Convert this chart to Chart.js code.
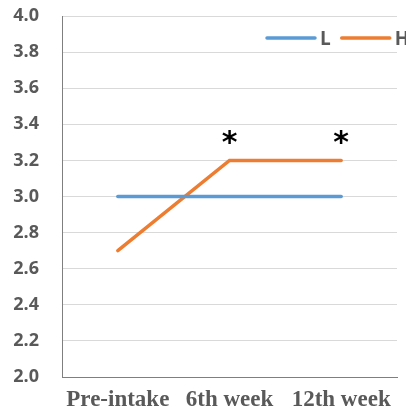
<!DOCTYPE html>
<html>
<head>
<meta charset="utf-8">
<script src="https://cdn.jsdelivr.net/npm/chart.js@4/dist/chart.umd.min.js"></script>
<style>
  html, body { margin: 0; padding: 0; background: #fff; }
  #wrap { width: 406px; height: 419px; position: relative; }
  canvas { display: block; }
</style>
</head>
<body>
<div id="wrap"><canvas id="c" width="406" height="419"></canvas></div>
<script>
// Score over the intake period for the two groups
const categories = ['Pre-intake', '6th week', '12th week'];
const seriesL = [3.0, 3.0, 3.0];
const seriesH = [2.7, 3.2, 3.2];
// Significance marks placed above group H
const marksH = ['', '*', '*'];
const yTicks = [2.0, 2.2, 2.4, 2.6, 2.8, 3.0, 3.2, 3.4, 3.6, 3.8, 4.0];

const blue = '#5B9BD5';
const orange = '#ED7D31';
const textGray = '#595959';

// In-plot legend drawn at the top right of the chart area
const insideLegend = {
  id: 'insideLegend',
  afterDatasetsDraw(chart) {
    const { ctx, chartArea } = chart;
    ctx.save();
    ctx.font = 'bold 19px "Open Sans"';
    ctx.textBaseline = 'middle';
    const y = chartArea.top + 22;
    const lineLen = 48, gap = 5, itemGap = 11;
    let x = chartArea.right - 130;
    chart.data.datasets.forEach(d => {
      ctx.strokeStyle = d.borderColor;
      ctx.lineWidth = 3.5;
      ctx.lineCap = 'round';
      ctx.beginPath();
      ctx.moveTo(x, y);
      ctx.lineTo(x + lineLen, y);
      ctx.stroke();
      ctx.fillStyle = textGray;
      ctx.textAlign = 'left';
      ctx.fillText(d.label, x + lineLen + gap, y + 2);
      x += lineLen + gap + ctx.measureText(d.label).width + itemGap;
    });
    ctx.restore();
  }
};

// Asterisks above the points of the H series
const starMarks = {
  id: 'starMarks',
  afterDatasetsDraw(chart) {
    const { ctx } = chart;
    const meta = chart.getDatasetMeta(1);
    ctx.save();
    ctx.font = 'bold 30px "DejaVu Sans"';
    ctx.fillStyle = '#000';
    ctx.textAlign = 'center';
    ctx.textBaseline = 'middle';
    meta.data.forEach((pt, i) => {
      if (marksH[i]) ctx.fillText(marksH[i], pt.x, pt.y - 16);
    });
    ctx.restore();
  }
};

new Chart(document.getElementById('c'), {
  type: 'line',
  data: {
    labels: categories,
    datasets: [
      { label: 'L', data: seriesL, borderColor: blue, backgroundColor: blue, borderWidth: 3.5, pointRadius: 0, tension: 0, borderCapStyle: 'round' },
      { label: 'H', data: seriesH, borderColor: orange, backgroundColor: orange, borderWidth: 3.5, pointRadius: 0, tension: 0, borderCapStyle: 'round' }
    ]
  },
  options: {
    responsive: false,
    animation: false,
    devicePixelRatio: 1,
    layout: { padding: { top: 16, right: 9, left: 0, bottom: 0 } },
    plugins: {
      legend: { display: false },
      tooltip: { enabled: false }
    },
    scales: {
      x: {
        offset: true,
        grid: { display: false, drawTicks: false },
        border: { color: '#7f7f7f', width: 1 },
        ticks: {
          color: textGray,
          font: { family: '"Liberation Serif"', size: 23, weight: 'bold' },
          padding: 9,
          maxRotation: 0,
          autoSkip: false
        },
        afterFit(s) {
          s.height = 42;
          s.paddingLeft = 0; s.paddingRight = 0; s.paddingTop = 0; s.paddingBottom = 0;
        }
      },
      y: {
        min: 2.0,
        max: 4.0,
        afterBuildTicks(s) { s.ticks = yTicks.map(v => ({ value: v })); },
        grid: { color: '#d9d9d9', lineWidth: 1, drawTicks: false },
        border: { color: '#7f7f7f', width: 1 },
        ticks: {
          color: textGray,
          font: { family: '"Open Sans"', size: 18, weight: 'bold' },
          padding: 23,
          callback: v => v.toFixed(1)
        },
        afterFit(s) {
          s.width = 62;
          s.paddingTop = 0; s.paddingBottom = 0;
        }
      }
    }
  },
  plugins: [insideLegend, starMarks]
});
</script>
</body>
</html>
